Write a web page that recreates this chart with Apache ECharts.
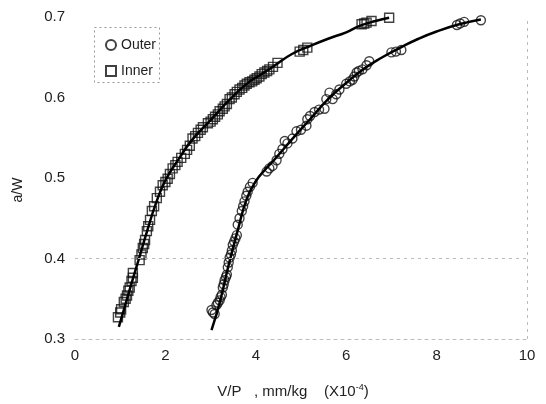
<!DOCTYPE html>
<html>
<head>
<meta charset="utf-8">
<script src="https://cdn.jsdelivr.net/npm/echarts@6/dist/echarts.min.js"></script>
<style>html,body{margin:0;padding:0;background:#fff;}#c{width:546px;height:404px;}</style>
</head>
<body>
<div id="c"></div>
<script>
// Inner (squares) measured points [V/P x1e-4, a/W]
const innerX = [0.95,1.00,1.02,1.08,1.12,1.15,1.18,1.21,1.25,1.28,1.28,1.43,1.47,1.50,1.53,1.55,1.59,1.62,1.66,1.70,1.75,1.81,1.88,1.94,2.00,2.05,2.10,2.16,2.22,2.27,2.35,2.43,2.48,2.54,2.60,2.66,2.72,2.78,2.83,2.94,3.00,3.05,3.10,3.16,3.20,3.27,3.31,3.36,3.42,3.47,3.53,3.58,3.64,3.70,3.75,3.80,3.86,3.92,3.97,4.02,4.08,4.13,4.19,4.25,4.30,4.38,4.48,4.97,5.05,5.14,6.34,6.40,6.45,6.56,6.95];
const innerY = [0.327,0.333,0.337,0.346,0.350,0.354,0.360,0.364,0.372,0.376,0.382,0.398,0.405,0.413,0.418,0.423,0.434,0.440,0.448,0.459,0.465,0.475,0.483,0.491,0.495,0.499,0.505,0.512,0.516,0.520,0.525,0.530,0.535,0.540,0.549,0.552,0.556,0.560,0.563,0.568,0.570,0.573,0.576,0.579,0.583,0.586,0.589,0.592,0.598,0.600,0.604,0.607,0.610,0.612,0.615,0.617,0.619,0.620,0.622,0.624,0.626,0.629,0.631,0.633,0.635,0.638,0.643,0.657,0.659,0.662,0.691,0.692,0.693,0.695,0.699];
// Outer (circles) measured points
const outerX = [3.02,3.05,3.09,3.13,3.16,3.20,3.22,3.25,3.27,3.29,3.31,3.34,3.36,3.38,3.40,3.42,3.45,3.47,3.49,3.52,3.55,3.58,3.60,3.64,3.69,3.72,3.75,3.79,3.82,3.87,3.93,4.24,4.30,4.37,4.46,4.52,4.59,4.64,4.70,4.81,4.90,5.00,5.12,5.14,5.20,5.30,5.40,5.52,5.56,5.63,5.70,5.78,5.85,6.00,6.08,6.14,6.18,6.23,6.28,6.36,6.45,6.51,7.00,7.10,7.22,8.45,8.52,8.61,8.98];
const outerY = [0.336,0.333,0.331,0.342,0.345,0.348,0.352,0.355,0.364,0.368,0.373,0.377,0.380,0.389,0.395,0.401,0.405,0.410,0.417,0.421,0.425,0.429,0.442,0.450,0.459,0.465,0.471,0.478,0.483,0.489,0.494,0.508,0.512,0.515,0.522,0.530,0.536,0.546,0.543,0.549,0.558,0.560,0.565,0.573,0.577,0.582,0.585,0.586,0.598,0.606,0.598,0.604,0.610,0.617,0.620,0.622,0.626,0.631,0.633,0.635,0.640,0.645,0.656,0.657,0.659,0.690,0.692,0.694,0.696];
// Fitted curves
const innerFitX = [0.97,1.10,1.25,1.40,1.60,1.80,2.00,2.30,2.60,3.00,3.40,3.80,4.10,4.40,4.80,5.20,5.60,6.00,6.30,6.65,6.95];
const innerFitY = [0.315,0.340,0.369,0.397,0.435,0.470,0.497,0.524,0.548,0.572,0.596,0.617,0.628,0.639,0.654,0.664,0.673,0.681,0.689,0.695,0.699];
const outerFitX = [3.02,3.20,3.40,3.60,3.80,4.00,4.20,4.40,4.80,5.20,5.60,6.00,6.40,6.80,7.20,7.60,8.00,8.50,8.98];
const outerFitY = [0.311,0.345,0.392,0.435,0.474,0.496,0.510,0.522,0.548,0.573,0.598,0.618,0.636,0.650,0.662,0.673,0.682,0.691,0.697];
const xTicks = [0,2,4,6,8,10];
const yTicks = [0.3,0.4,0.5,0.6,0.7];

const zip = (a,b) => a.map((v,i)=>[v,b[i]]);
const FONT = '"Liberation Sans", Arial, sans-serif';
const chart = echarts.init(document.getElementById('c'), null, {renderer:'canvas'});
chart.setOption({
  backgroundColor:'#fff',
  animation:false,
  textStyle:{fontFamily:FONT},
  grid:{left:75,right:19,top:17,bottom:62},
  graphic:[{type:'rect',left:92,top:25,shape:{width:65,height:55},style:{fill:'none',stroke:'#999',lineWidth:1,lineDash:[2,3]}}],
  legend:{
    orient:'vertical', left:100, top:33, itemWidth:10, itemHeight:10, itemGap:12,
    textStyle:{fontFamily:FONT,fontSize:14,color:'#222'},
    data:[{name:'Outer',icon:'circle'},{name:'Inner',icon:'rect'}]
  },
  xAxis:{
    type:'value', min:0, max:10, interval:2,
    name:'V/P   , mm/kg    (X10{sup|-4})', nameLocation:'middle', nameGap:44,
    nameTextStyle:{fontFamily:FONT,fontSize:15,color:'#222',padding:[0,16,0,0],rich:{sup:{fontSize:9,verticalAlign:'top',padding:[0,0,8,0],fontFamily:FONT,color:'#222'}}},
    axisLine:{show:true,lineStyle:{color:'#bbb',type:[3,4],width:1}},
    axisTick:{show:false},
    splitLine:{show:false},
    axisLabel:{fontSize:15,color:'#222',margin:9,fontFamily:FONT}
  },
  yAxis:{
    type:'value', min:0.3, max:0.7, interval:0.1,
    name:'a/W', nameLocation:'middle', nameGap:50, nameRotate:90,
    nameTextStyle:{fontFamily:FONT,fontSize:14,color:'#222',padding:[0,24,0,0]},
    axisLine:{show:false},
    axisTick:{show:false},
    splitLine:{show:false},
    axisLabel:{fontSize:15,color:'#222',margin:10,fontFamily:FONT,formatter:v=>v.toFixed(1)}
  },
  series:[
    {name:'Outer', type:'scatter', symbol:'circle', symbolSize:9,
     itemStyle:{color:'rgba(255,255,255,0)',borderColor:'#111',borderWidth:1.4},
     data:zip(outerX,outerY), z:3,
     markLine:{silent:true,symbol:'none',label:{show:false},
       lineStyle:{color:'#bbb',type:[3,4],width:1},
       data:[{yAxis:yTicks[1]},{xAxis:xTicks[5]}]}},
    {name:'Inner', type:'scatter', symbol:'rect', symbolSize:9,
     itemStyle:{color:'rgba(255,255,255,0)',borderColor:'#111',borderWidth:1.4},
     data:zip(innerX,innerY), z:3},
    {name:'OuterFit', type:'line', smooth:true, symbol:'none',
     lineStyle:{color:'#000',width:2.5}, data:zip(outerFitX,outerFitY), z:4},
    {name:'InnerFit', type:'line', smooth:true, symbol:'none',
     lineStyle:{color:'#000',width:2.5}, data:zip(innerFitX,innerFitY), z:4}
  ]
});
</script>
</body>
</html>
